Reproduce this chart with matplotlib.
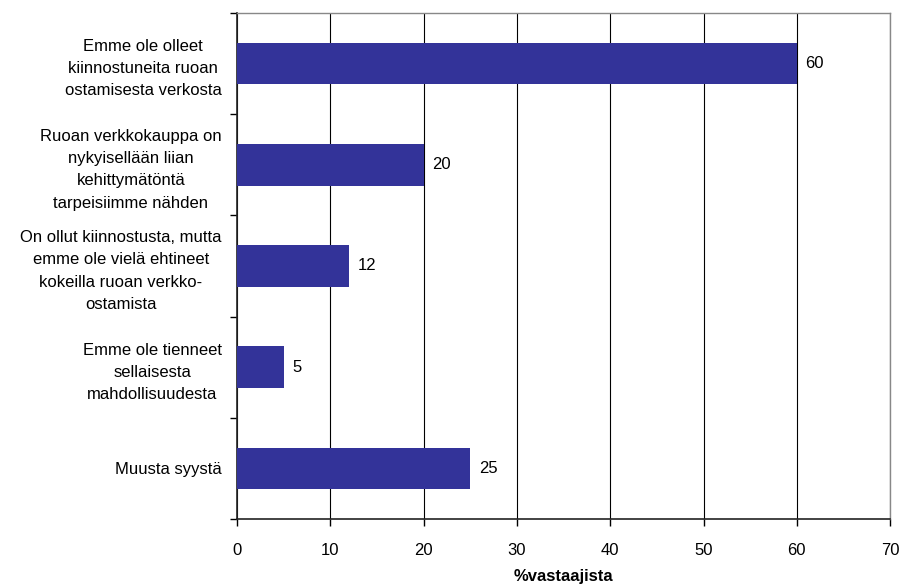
import matplotlib.pyplot as plt
from matplotlib.ticker import FixedLocator

plt.rcParams['font.family'] = ['Liberation Sans', 'DejaVu Sans']

categories = [
    "Emme ole olleet\nkiinnostuneita ruoan\nostamisesta verkosta",
    "Ruoan verkkokauppa on\nnykyisellään liian\nkehittymätöntä\ntarpeisiimme nähden",
    "On ollut kiinnostusta, mutta\nemme ole vielä ehtineet\nkokeilla ruoan verkko-\nostamista",
    "Emme ole tienneet\nsellaisesta\nmahdollisuudesta",
    "Muusta syystä",
]
values = [60, 20, 12, 5, 25]
x_ticks = [0, 10, 20, 30, 40, 50, 60, 70]

fs = 12

fig = plt.figure(figsize=(9.01, 5.85), dpi=100)
ax = fig.add_axes([0.263, 0.1128, 0.725, 0.865])

n = len(categories)
pos = [n - 1 - i for i in range(n)]
ax.barh(pos, values, height=0.41, color='#333399', zorder=3)

for p, v in zip(pos, values):
    ax.text(v + 0.9, p, str(v), va='center', ha='left', fontsize=fs)

ax.set_xlim(0, 70)
ax.set_ylim(-0.5, n - 0.5)
ax.set_xticks(x_ticks)
ax.set_xticklabels([str(t) for t in x_ticks], fontsize=fs)
ax.tick_params(axis='x', length=5, width=1, direction='out', pad=12)

ax.set_yticks(pos)
ax.set_yticklabels(categories, fontsize=fs, multialignment='center', linespacing=1.6)
ax.tick_params(axis='y', which='major', length=0, pad=11)
ax.yaxis.set_minor_locator(FixedLocator([i - 0.5 for i in range(n + 1)]))
ax.tick_params(axis='y', which='minor', length=5, width=1, direction='out')

ax.grid(axis='x', color='black', linewidth=0.8, zorder=0)
for side in ['left', 'bottom']:
    ax.spines[side].set_color('#222222')
    ax.spines[side].set_linewidth(1.2)
for side in ['top', 'right']:
    ax.spines[side].set_color('#888888')
    ax.spines[side].set_linewidth(1.0)

ax.set_xlabel('%vastaajista', fontsize=fs, fontweight='bold', labelpad=8)

fig.savefig('out.png', dpi=100)
